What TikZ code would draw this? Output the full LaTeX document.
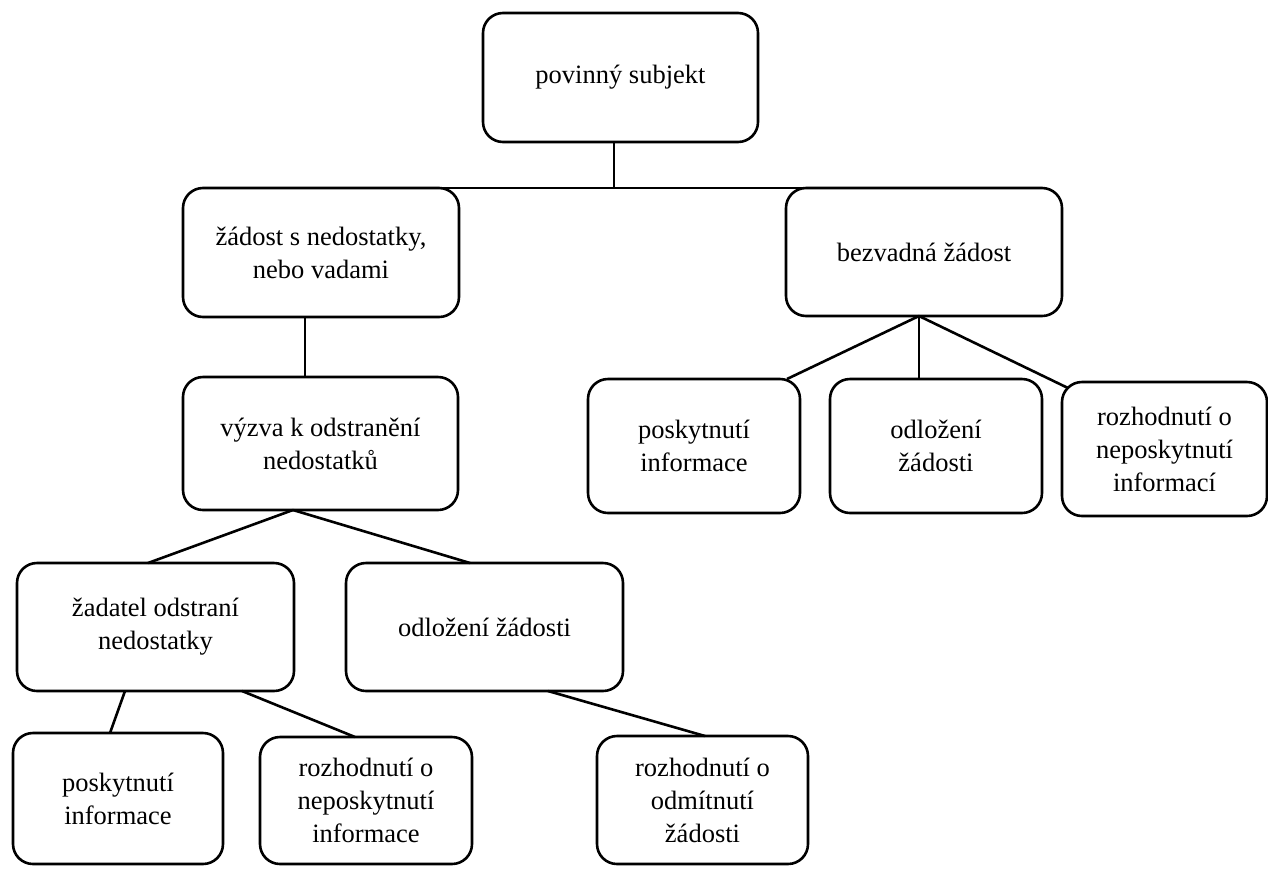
\documentclass[tikz,border=0pt]{standalone}
\usepackage{fontspec}
\setmainfont{Liberation Serif}
\begin{document}
\begin{tikzpicture}[x=1pt,y=-1pt,
  box/.style={draw, line width=2.6pt, rounded corners=20pt, inner sep=0pt, outer sep=0pt,
    align=center, font=\fontsize{26.5}{33}\selectfont, fill=white},
  conn/.style={line width=2.6pt}]
\useasboundingbox[fill=white] (0,0) rectangle (1268,868);
% nodes
\node[box, minimum width=275pt, minimum height=129pt] (ps) at (620.5,77.5) {povinný subjekt};
\node[box, minimum width=276pt, minimum height=129pt] (zn) at (321,252.5) {žádost s nedostatky,\\ nebo vadami};
\node[box, minimum width=276pt, minimum height=128pt] (bz) at (924,252) {bezvadná žádost};
\node[box, minimum width=275pt, minimum height=133pt] (vy) at (320.5,443.5) {výzva k odstranění\\ nedostatků};
\node[box, minimum width=212pt, minimum height=134pt] (pi) at (694,446) {poskytnutí\\ informace};
\node[box, minimum width=212pt, minimum height=134pt] (oz) at (936,446) {odložení\\ žádosti};
\node[box, minimum width=205pt, minimum height=134pt] (rn) at (1164.5,449) {rozhodnutí o\\ neposkytnutí\\ informací};
\node[box, minimum width=277pt, minimum height=128pt] (zo) at (155.5,627) {žadatel odstraní\\ nedostatky};
\node[box, minimum width=277pt, minimum height=128pt] (ozb) at (484.5,627) {odložení žádosti};
\node[box, minimum width=210pt, minimum height=131pt] (pib) at (118,798.5) {poskytnutí\\ informace};
\node[box, minimum width=212pt, minimum height=127pt] (rnb) at (366,800.5) {rozhodnutí o\\ neposkytnutí\\ informace};
\node[box, minimum width=211pt, minimum height=128pt] (ro) at (702.5,800) {rozhodnutí o\\ odmítnutí\\ žádosti};
% connectors
\draw[conn] ([xshift=-6.5pt]ps.south) -- ([xshift=-6.5pt]ps.south |- zn.north);
\draw[conn] (zn.north) -- (bz.north);
\draw[conn] ([xshift=-16pt]zn.south) -- ([xshift=-16pt]zn.south |- vy.north);
\draw[conn] ([xshift=-5pt]bz.south) -- ([xshift=-13pt]pi.north east);
\draw[conn] ([xshift=-5pt]bz.south) -- ([xshift=-5pt]bz.south |- oz.north);
\draw[conn] ([xshift=-5pt]bz.south) -- ([xshift=6pt,yshift=-6pt]rn.north west);
\draw[conn] ([xshift=-27.5pt]vy.south) -- ([xshift=-7.5pt]zo.north);
\draw[conn] ([xshift=-27.5pt]vy.south) -- ([xshift=-14.5pt]ozb.north);
\draw[conn] ([xshift=-30.5pt]zo.south) -- ([xshift=-8pt]pib.north);
\draw[conn] ([xshift=86.5pt]zo.south) -- ([xshift=-11pt]rnb.north);
\draw[conn] ([xshift=63.5pt]ozb.south) -- ([xshift=2.5pt]ro.north);
\end{tikzpicture}
\end{document}
